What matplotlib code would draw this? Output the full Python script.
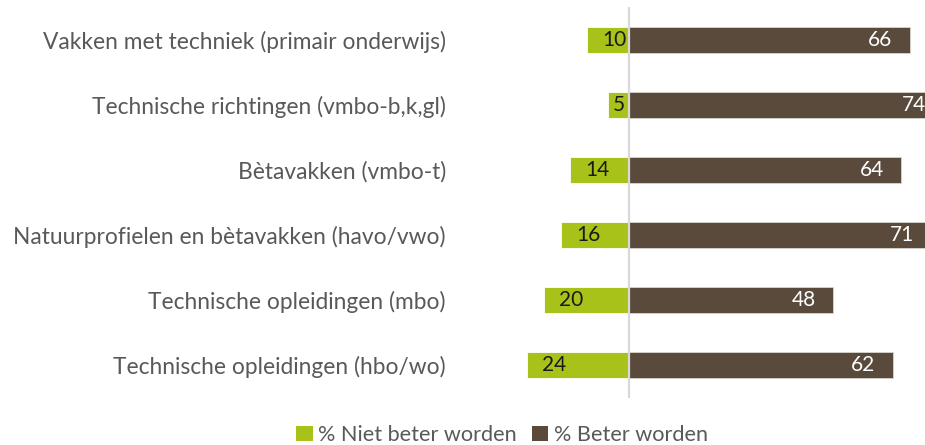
import matplotlib
matplotlib.use("Agg")
import matplotlib.pyplot as plt
from matplotlib.patches import Patch

categories = [
    "Vakken met techniek (primair onderwijs)",
    "Technische richtingen (vmbo-b,k,gl)",
    "Bètavakken (vmbo-t)",
    "Natuurprofielen en bètavakken (havo/vwo)",
    "Technische opleidingen (mbo)",
    "Technische opleidingen (hbo/wo)",
]
niet_beter = [10, 5, 14, 16, 20, 24]
beter = [66, 74, 64, 71, 48, 62]
series_names = ["% Niet beter worden", "% Beter worden"]

GREEN = "#A9C21A"
BROWN = "#594A3C"
GRAY_TXT = "#595959"
FONT = "Lato"

plt.rcParams["font.family"] = [FONT, "DejaVu Sans"]

W, H = 925, 445
fig = plt.figure(figsize=(W / 100, H / 100), dpi=100)
ax_left_px, zero_px, scale = 470, 629, 4.25
top_px, bot_px = 7.5, 397.5
ax = fig.add_axes([ax_left_px / W, 1 - bot_px / H, 1 - ax_left_px / W, (bot_px - top_px) / H])
ax.set_xlim(-(zero_px - ax_left_px) / scale, (W - zero_px) / scale)

y = list(range(len(categories)))
ax.barh(y, [-v for v in niet_beter], height=0.4, color=GREEN, edgecolor="white", linewidth=0.6, zorder=2)
ax.barh(y, beter, height=0.4, color=BROWN, edgecolor="#d8d4cf", linewidth=0.6, zorder=2)
ax.axvline(0, color="#D9D9D9", lw=1.6, zorder=3)
ax.set_ylim(len(categories) - 0.5, -0.5)

fs_cat = 16.4
fs_val = 15.0
fs_leg = 15.6
for i, v in enumerate(niet_beter):
    if v >= 8:
        ax.annotate(str(v), xy=(-v, i), xytext=(11.0, 0), textcoords="offset points",
                    ha="left", va="center", fontsize=fs_val, color="#1a1a1a", zorder=4)
    else:
        ax.text(-v / 2, i, str(v), ha="center", va="center", fontsize=fs_val, color="#1a1a1a", zorder=4)
for i, v in enumerate(beter):
    ax.annotate(str(v), xy=(v, i), xytext=(-12.2, 0), textcoords="offset points",
                ha="right", va="center", fontsize=fs_val, color="white", zorder=4,
                annotation_clip=False)

ax.set_yticks(y)
ax.set_yticklabels(categories, fontsize=fs_cat, color=GRAY_TXT)
ax.tick_params(axis="y", length=0, pad=17.3)
ax.set_xticks([])
for s in ax.spines.values():
    s.set_visible(False)

handles = [Patch(facecolor=GREEN), Patch(facecolor=BROWN)]
fig.legend(handles, series_names, loc="center", bbox_to_anchor=(502 / W, 1 - 435 / H),
           ncol=2, frameon=False, fontsize=fs_leg, labelcolor=GRAY_TXT,
           handlelength=0.75, handleheight=0.75, handletextpad=0.25, columnspacing=0.7)

fig.savefig("out.png", dpi=100)
